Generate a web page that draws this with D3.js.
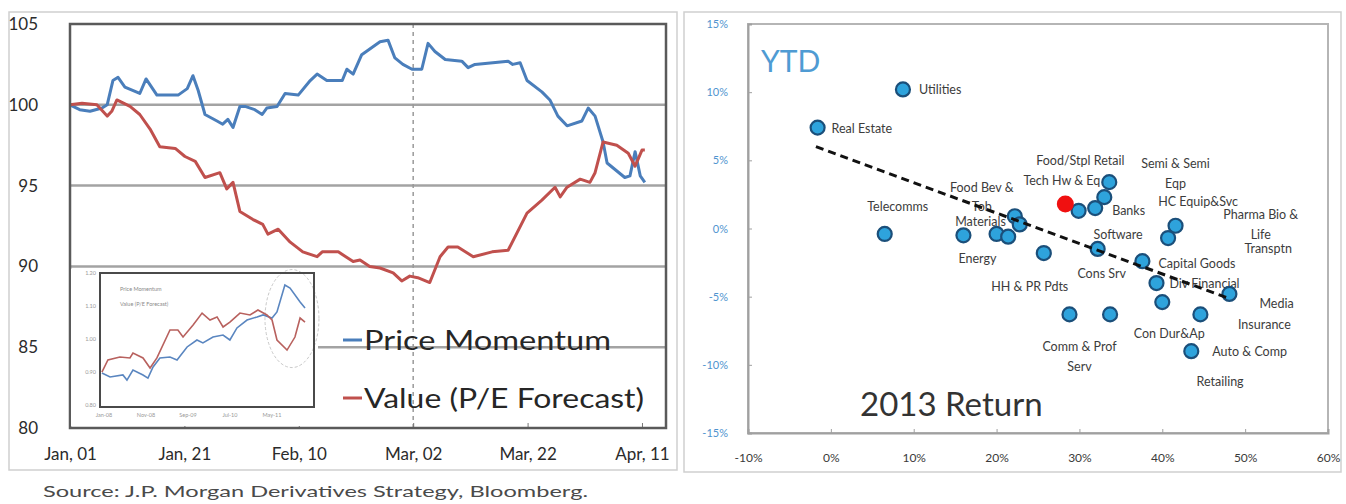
<!DOCTYPE html>
<html lang="en">
<head>
<meta charset="UTF-8">
<title>Price Momentum vs Value, sector returns</title>
<script src="https://d3js.org/d3.v7.min.js"></script>
<style>
  body { margin: 0; background: #fff; }
  svg text { font-family: Lato, "Open Sans", sans-serif; }
</style>
</head>
<body>
<div id="chart"></div>
<script>
// ---- left panel: indexed performance, days since Jan 01 ----
const momentumDay = [0,1.7,3.5,5.6,6.5,7.5,8.4,9.6,12.2,13.3,15.2,18.9,20.5,21.5,22.4,23.6,25.7,26.7,27.6,28.5,29.7,30.6,32.3,33.6,34.4,36.2,37.6,39.9,42.0,43.2,44.9,47.6,48.4,49.5,51.0,54.2,55.6,56.8,58.2,59.8,61.5,62.6,63.8,65.6,68.5,69.6,70.8,76.6,77.4,78.7,79.9,82.5,83.9,85.3,86.9,89.5,90.6,91.8,93.2,93.9,97.0,97.9,98.8,99.7,100.5];
const momentumVal = [100.0,99.7,99.6,99.8,100.0,101.5,101.7,101.1,100.7,101.6,100.6,100.6,101.0,101.8,100.9,99.4,99.0,98.8,99.1,98.6,99.9,99.9,99.7,99.4,99.8,99.9,100.7,100.6,101.5,101.9,101.5,101.5,102.2,101.9,103.1,103.9,104.0,102.9,102.5,102.2,102.2,103.8,103.3,102.8,102.7,102.3,102.5,102.7,102.5,102.6,101.5,100.8,100.3,99.3,98.7,99.0,99.8,99.3,97.7,96.4,95.5,95.6,97.1,95.6,95.2];
const valueDay = [0,2.1,4.7,6.5,7.3,8.2,10.5,12.2,14.0,15.7,18.4,20.1,21.9,23.6,26.2,27.4,28.5,29.7,32.0,33.7,34.6,36.4,38.5,40.7,43.2,44.1,46.9,49.5,50.7,52.4,54.2,56.5,58.0,59.4,60.8,62.9,64.7,66.1,67.8,70.5,73.8,76.6,79.9,82.5,84.8,85.7,86.9,89.2,90.9,91.8,93.2,95.6,97.6,98.8,100.0,100.5];
const valueVal = [100.0,100.1,100.0,99.3,99.6,100.3,99.9,99.4,98.5,97.4,97.3,96.8,96.5,95.5,95.8,94.8,95.2,93.4,92.9,92.6,92.0,92.3,91.5,90.9,90.6,90.9,90.9,90.3,90.4,90.0,89.9,89.6,89.1,89.4,89.3,89.0,90.6,91.2,91.2,90.6,90.9,91.0,93.3,94.1,94.9,94.3,94.9,95.4,95.2,95.8,97.7,97.5,97.0,96.2,97.2,97.2];
const leftXTicks = [0, 20, 40, 60, 80, 100];
const leftXLabels = ["Jan, 01", "Jan, 21", "Feb, 10", "Mar, 02", "Mar, 22", "Apr, 11"];
const leftYTicks = [80, 85, 90, 95, 100, 105];
const markerDay = 60; // Mar 02
const seriesNames = ["Price Momentum", "Value (P/E Forecast)"];

// ---- inset (long history, relative units 0-100) ----
const insetMomX = [0.9,4.7,10.7,12.6,15.4,20.1,22.4,24.8,28.0,32.7,36.0,40.7,45.3,48.1,52.8,57.5,60.7,64.0,68.7,73.4,76.2,80.4,82.7,86.4,88.8,93.5,95.8];
const insetMomY = [25.4,22.4,23.9,20.1,27.6,23.9,21.6,29.9,36.6,37.3,35.1,44.8,50.0,47.8,52.2,53.7,50.0,59.0,64.9,67.2,68.7,66.4,70.9,91.0,88.8,78.4,73.9];
const insetValX = [0.9,3.7,9.3,14.0,15.4,20.1,23.4,26.6,32.7,36.4,38.8,43.5,47.7,51.4,54.7,57.5,60.7,65.4,70.1,73.8,78.0,80.4,82.7,87.4,91.1,93.5,95.8];
const insetValY = [26.1,35.1,37.3,36.6,40.3,36.6,29.1,36.6,57.5,57.5,52.2,61.2,70.1,64.9,67.2,59.7,63.4,70.1,68.7,72.4,68.7,64.9,50.0,42.5,52.2,66.4,63.4];
const insetYLabels = ["1.20", "1.10", "1.00", "0.90", "0.80"];
const insetXLabels = ["Jan-08", "Nov-08", "Sep-09", "Jul-10", "May-11"];

// ---- right panel: 2013 return vs YTD by sector ----
const sectorNames = ["Utilities","Real Estate","Telecomms","Energy","Materials","Food Bev &\nTob","HH & PR Pdts","Tech Hw & Eq","Food/Stpl Retail","Banks","Software","Semi & Semi\nEqp","HC Equip&Svc","Pharma Bio &\nLife","Transptn","Cons Srv","Capital Goods","Div Financial","Con Dur&Ap","Comm & Prof\nServ","Retailing","Insurance","Media","Auto & Comp"];
const sectorRet2013 = [8.7,-1.6,6.5,16.0,20.0,22.2,25.7,33.6,33.0,31.9,29.9,41.6,40.7,22.8,21.4,32.2,37.6,39.3,40.0,28.8,33.7,44.6,48.1,43.5];
const sectorYTD =     [10.2,7.4,-0.4,-0.5,-0.4,0.9,-1.8,3.4,2.3,1.5,1.3,0.2,-0.7,0.3,-0.6,-1.5,-2.4,-4.0,-5.4,-6.3,-6.3,-6.3,-4.8,-9.0];
const marketRet2013 = 28.3, marketYTD = 1.8;
const trendRet = [-1.8, 47.9], trendYTD = [6.0, -5.1];
const rightXTicks = [-10, 0, 10, 20, 30, 40, 50, 60];
const rightYTicks = [-15, -10, -5, 0, 5, 10, 15];

const W = 1346, H = 504;
const svg = d3.select("#chart").append("svg").attr("width", W).attr("height", H);

// ================= LEFT PANEL =================
svg.append("rect").attr("x", 9).attr("y", 12).attr("width", 668).attr("height", 458)
  .attr("fill", "#fff").attr("stroke", "#cfcfcf").attr("stroke-width", 1.5);

const lx = d3.scaleLinear().domain([0, 104.2]).range([70, 666]);
const ly = d3.scaleLinear().domain([80, 105]).range([428, 24]);

const lg = svg.append("g");
// gridlines
lg.selectAll(".grid").data(leftYTicks.filter(d => d > 80 && d < 105)).enter().append("line")
  .attr("x1", lx(0)).attr("x2", lx(104.2)).attr("y1", d => ly(d)).attr("y2", d => ly(d))
  .attr("stroke", "#a3a3a3").attr("stroke-width", 2.5);
// dashed marker
lg.append("line").attr("x1", lx(markerDay)).attr("x2", lx(markerDay)).attr("y1", ly(105)).attr("y2", ly(80))
  .attr("stroke", "#9a9a9a").attr("stroke-width", 1.5).attr("stroke-dasharray", "4,4");

// y axis labels
const yAx = lg.append("g").attr("transform", `translate(${lx(0)},0)`)
  .call(d3.axisLeft(ly).tickValues(leftYTicks).tickSize(0).tickPadding(32));
yAx.select(".domain").remove();
yAx.selectAll("text").attr("font-size", 17).attr("fill", "#2b2b2b").attr("font-family", "Lato");

// x axis
const xAx = lg.append("g").attr("transform", `translate(0,${ly(80)})`)
  .call(d3.axisBottom(lx).tickValues(leftXTicks).tickFormat((d, i) => leftXLabels[i]).tickSize(-5).tickPadding(20));
xAx.select(".domain").remove();
xAx.selectAll("line").attr("stroke", "#777");
xAx.selectAll("text").attr("font-size", 17).attr("fill", "#2b2b2b").attr("font-family", "Lato");

const line = d3.line().x(d => lx(d[0])).y(d => ly(d[1]));
lg.append("path").datum(momentumDay.map((d, i) => [d, momentumVal[i]]))
  .attr("d", line).attr("fill", "none").attr("stroke", "#4a7ebb").attr("stroke-width", 3).attr("stroke-linejoin", "round");
lg.append("path").datum(valueDay.map((d, i) => [d, valueVal[i]]))
  .attr("d", line).attr("fill", "none").attr("stroke", "#c0504d").attr("stroke-width", 3).attr("stroke-linejoin", "round");

// inset chart
const ig = svg.append("g");
ig.append("rect").attr("x", 71).attr("y", 269).attr("width", 247).attr("height", 157).attr("fill", "#fff");
const ix = d3.scaleLinear().domain([0, 100]).range([100, 314]);
const iy = d3.scaleLinear().domain([0, 100]).range([407, 273]);
ig.append("ellipse").attr("cx", ix(89.7)).attr("cy", iy(66)).attr("rx", 27).attr("ry", 49)
  .attr("fill", "none").attr("stroke", "#c8c8c8").attr("stroke-width", 1).attr("stroke-dasharray", "3,2");
const iline = d3.line().x(d => ix(d[0])).y(d => iy(d[1]));
ig.append("path").datum(insetMomX.map((d, i) => [d, insetMomY[i]])).attr("d", iline)
  .attr("fill", "none").attr("stroke", "#5a86c0").attr("stroke-width", 1.6);
ig.append("path").datum(insetValX.map((d, i) => [d, insetValY[i]])).attr("d", iline)
  .attr("fill", "none").attr("stroke", "#b8615e").attr("stroke-width", 1.6);
ig.append("rect").attr("x", 100).attr("y", 273).attr("width", 214).attr("height", 134)
  .attr("fill", "none").attr("stroke", "#4a4a4a").attr("stroke-width", 2);
ig.selectAll(".iyl").data(insetYLabels).enter().append("text")
  .attr("x", 96).attr("y", (d, i) => 275 + i * 33).attr("text-anchor", "end")
  .attr("font-size", 5.5).attr("fill", "#999").text(d => d);
ig.selectAll(".ixl").data(insetXLabels).enter().append("text")
  .attr("x", (d, i) => 104 + i * 42).attr("y", 417).attr("text-anchor", "middle")
  .attr("font-size", 5.5).attr("fill", "#999").text(d => d);
ig.selectAll(".ileg").data(seriesNames).enter().append("text")
  .attr("x", 120).attr("y", (d, i) => 291 + i * 15).attr("font-size", 5.5).attr("fill", "#8a8a8a")
  .text(d => d);

// plot frame
lg.append("rect").attr("x", lx(0)).attr("y", ly(105)).attr("width", lx(104.2) - lx(0)).attr("height", ly(80) - ly(105))
  .attr("fill", "none").attr("stroke", "#5a5a5a").attr("stroke-width", 2.5);

// legend
const legColors = ["#4a7ebb", "#c0504d"];
const legY = [340, 398];
const legLen = [247, 280];
seriesNames.forEach((name, i) => {
  svg.append("line").attr("x1", 343).attr("x2", 362).attr("y1", legY[i]).attr("y2", legY[i])
    .attr("stroke", legColors[i]).attr("stroke-width", 3);
  svg.append("text").attr("x", 364).attr("y", legY[i] + 10).attr("font-size", 26)
    .attr("fill", "#262626").attr("textLength", legLen[i]).attr("lengthAdjust", "spacingAndGlyphs")
    .text(name);
});

svg.append("text").attr("x", 43).attr("y", 497).attr("font-size", 15).attr("fill", "#4a4a4a")
  .attr("textLength", 545).attr("lengthAdjust", "spacingAndGlyphs")
  .text("Source: J.P. Morgan Derivatives Strategy, Bloomberg.");

// ================= RIGHT PANEL =================
svg.append("rect").attr("x", 684).attr("y", 12).attr("width", 657).attr("height", 460)
  .attr("fill", "#fff").attr("stroke", "#cfcfcf").attr("stroke-width", 1.5);

const rx = d3.scaleLinear().domain([-10, 60]).range([748, 1328]);
const ry = d3.scaleLinear().domain([-15, 15]).range([433, 24]);
const rg = svg.append("g");

rg.append("rect").attr("x", rx(-10)).attr("y", ry(15)).attr("width", rx(60) - rx(-10)).attr("height", ry(-15) - ry(15))
  .attr("fill", "none").attr("stroke", "#b5b5b5").attr("stroke-width", 2);

const ryAx = rg.append("g").attr("transform", `translate(${rx(-10)},0)`)
  .call(d3.axisLeft(ry).tickValues(rightYTicks).tickFormat(d => d + "%").tickSize(-4).tickPadding(20));
ryAx.select(".domain").attr("stroke", "#a0a0a0").attr("stroke-width", 2);
ryAx.selectAll("line").attr("stroke", "#a0a0a0");
ryAx.selectAll("text").attr("font-size", 11).attr("fill", "#4f94cf").attr("font-family", "Open Sans");

const rxAx = rg.append("g").attr("transform", `translate(0,${ry(-15)})`)
  .call(d3.axisBottom(rx).tickValues(rightXTicks).tickFormat(d => d + "%").tickSize(-4).tickPadding(20));
rxAx.select(".domain").attr("stroke", "#a0a0a0").attr("stroke-width", 2);
rxAx.selectAll("line").attr("stroke", "#a0a0a0");
rxAx.selectAll("text").attr("font-size", 12).attr("fill", "#3a3a3a").attr("font-family", "Open Sans");

rg.append("text").attr("x", 761).attr("y", 72).attr("font-size", 30).attr("fill", "#4f9bd3").text("YTD");
rg.append("text").attr("x", 860).attr("y", 416).attr("font-size", 33).attr("fill", "#333").text("2013 Return");

// label placement (pixel offsets from each point, anchor)
const labelLayout = {
  "Utilities": [16, 5, "start"], "Real Estate": [14, 5, "start"], "Telecomms": [13, -23, "middle"],
  "Energy": [14, 28, "middle"], "Materials": [-16, -8, "middle"], "Food Bev &\nTob": [-33, -24, "middle"],
  "HH & PR Pdts": [-14, 38, "middle"], "Tech Hw & Eq": [-9, 3, "end"], "Food/Stpl Retail": [-24, -32, "middle"],
  "Banks": [17, 7, "start"], "Software": [15, 28, "start"], "Semi & Semi\nEqp": [0, -58, "middle"],
  "HC Equip&Svc": [30, -32, "middle"], "Pharma Bio &\nLife": [241, -5, "middle"], "Transptn": [260, 16, "middle"],
  "Cons Srv": [4, 29, "middle"], "Capital Goods": [16, 7, "start"], "Div Financial": [13, 5, "start"],
  "Con Dur&Ap": [7, 36, "middle"], "Comm & Prof\nServ": [10, 37, "middle"], "Retailing": [110, 72, "middle"],
  "Insurance": [64, 15, "middle"], "Media": [30, 14, "start"], "Auto & Comp": [21, 5, "start"]
};

const labG = rg.append("g");
sectorNames.forEach((name, i) => {
  const [dx, dy, anchor] = labelLayout[name];
  const lineGap = name.startsWith("Food Bev") ? 19 : 20;
  const t = labG.append("text").attr("x", rx(sectorRet2013[i]) + dx).attr("y", ry(sectorYTD[i]) + dy)
    .attr("text-anchor", anchor).attr("font-size", 12.5).attr("fill", "#3c3c3c").attr("font-family", "Open Sans");
  name.split("\n").forEach((part, j) => {
    t.append("tspan").attr("x", rx(sectorRet2013[i]) + dx).attr("dy", j === 0 ? 0 : lineGap).text(part);
  });
});

rg.selectAll(".pt").data(sectorNames).enter().append("circle")
  .attr("cx", (d, i) => rx(sectorRet2013[i])).attr("cy", (d, i) => ry(sectorYTD[i])).attr("r", 7)
  .attr("fill", "#2ea3dc").attr("stroke", "#1b4f7a").attr("stroke-width", 2.2);
rg.append("circle").attr("cx", rx(marketRet2013)).attr("cy", ry(marketYTD)).attr("r", 8.5)
  .attr("fill", "#f01010");

rg.append("line").attr("x1", rx(trendRet[0])).attr("y1", ry(trendYTD[0]))
  .attr("x2", rx(trendRet[1])).attr("y2", ry(trendYTD[1]))
  .attr("stroke", "#111").attr("stroke-width", 3).attr("stroke-dasharray", "8,5");
</script>
</body>
</html>
